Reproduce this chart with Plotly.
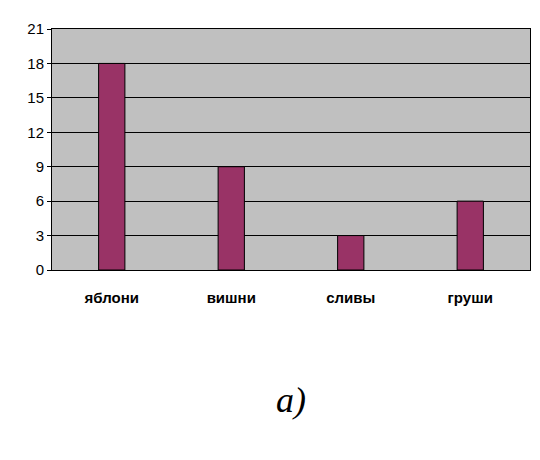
import plotly.graph_objects as go

categories = ["яблони", "вишни", "сливы", "груши"]
values = [18, 9, 3, 6]
y_ticks = [0, 3, 6, 9, 12, 15, 18, 21]

fig = go.Figure()
fig.add_trace(go.Bar(
    x=categories,
    y=values,
    marker=dict(color="#993366", line=dict(color="black", width=1)),
    width=0.22,
))

fig.update_layout(
    width=540,
    height=460,
    margin=dict(l=44, r=18, t=16, b=198),
    paper_bgcolor="white",
    plot_bgcolor="#c0c0c0",
    showlegend=False,
    font=dict(family="Arial", color="black"),
)
fig.update_xaxes(
    showline=True, linecolor="black", mirror=True,
    tickfont=dict(size=15, family="Arial", weight="bold"),
    ticklabelstandoff=14,
)
fig.update_yaxes(
    range=[0, 21],
    tickvals=y_ticks,
    showgrid=True, gridcolor="black", gridwidth=1,
    showline=True, linecolor="black", mirror=True,
    ticks="outside", ticklen=4, tickcolor="black",
    tickfont=dict(size=15),
    zeroline=False,
)
fig.add_annotation(
    text="<i>а)</i>", x=0.5, y=-0.63, xref="paper", yref="paper",
    showarrow=False, font=dict(size=36, family="Liberation Serif"),
)

fig.write_html("out.html")
